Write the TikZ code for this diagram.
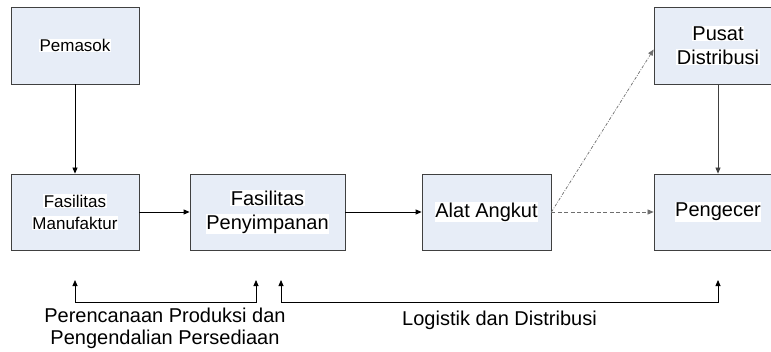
\documentclass[tikz,border=0pt]{standalone}
\usepackage{fontspec}
\setmainfont{Liberation Sans}
\usetikzlibrary{arrows.meta}
\definecolor{boxfill}{RGB}{231,237,247}
\definecolor{boxline}{RGB}{64,64,64}
\definecolor{dashline}{RGB}{110,110,110}
% white highlight behind each line of text
\newcommand{\hltext}[1]{{\setlength{\fboxsep}{0.6pt}\colorbox{white}{#1}}}
\begin{document}
\begin{tikzpicture}[x=1pt,y=1pt,
  box/.style={draw=boxline, fill=boxfill, line width=0.8pt,
    minimum width=128pt, minimum height=77pt, inner sep=0pt, align=center},
  smalltext/.style={font=\fontsize{17}{22}\selectfont},
  largetext/.style={font=\fontsize{20}{24}\selectfont},
  tip/.tip={Triangle[length=6pt,width=5pt]},
  flow/.style={line width=0.8pt, -tip},
  grayflow/.style={line width=0.8pt, draw=boxline, -tip},
  dashflow/.style={line width=0.7pt, draw=dashline, dash pattern=on 4pt off 2.5pt, -tip},
  dotflow/.style={line width=0.7pt, draw=dashline, dash pattern=on 3pt off 1.5pt on 0.8pt off 1.5pt, -tip},
  span/.style={line width=0.8pt, tip-tip}
]
\fill[white] (0,0) rectangle (771,351);
\useasboundingbox (0,0) rectangle (771,351);

% boxes
\node[box, smalltext] (pem) at (75,305.5) {\hltext{Pemasok}};
\node[box, smalltext, minimum height=76pt] (man) at (75,139) {\hltext{Fasilitas}\\\hltext{Manufaktur}};
\node[box, largetext, minimum width=155pt, minimum height=76pt] (peny) at (267.5,139) {\hltext{Fasilitas}\\\hltext{Penyimpanan}};
\node[box, largetext, minimum width=129pt, minimum height=76pt] (alat) at (486.5,139) {\hltext{Alat Angkut}};
\node[box, largetext] (pusat) at (718,305.5) {\hltext{Pusat}\\\hltext{Distribusi}};
\node[box, largetext, minimum height=76pt] (peng) at (718,139) {\hltext{Pengecer}};

% flows between boxes
\draw[flow] (pem) -- (man);
\draw[flow] (man) -- (peny);
\draw[flow] (peny) -- (alat);
\draw[dashflow] (alat.east) -- (peng.west);
\draw[dotflow] (alat.east) -- ([yshift=-4pt]pusat.west);
\draw[grayflow] (pusat) -- (peng);

% planning and logistics spans
\coordinate (p1) at (75,71);
\coordinate (p1b) at (75,49);
\coordinate (p2) at (256,71);
\coordinate (p2b) at (256,49);
\coordinate (l1) at (281,71);
\coordinate (l1b) at (281,49);
\coordinate (l2) at (718,71);
\coordinate (l2b) at (718,49);
\draw[span] (p1) -- (p1b) -- (p2b) -- (p2);
\draw[span] (l1) -- (l1b) -- (l2b) -- (l2);

\node[largetext, align=center, font=\fontsize{20}{22}\selectfont] (plan) at (165,23)
  {Perencanaan Produksi dan\\Pengendalian Persediaan};
\node[largetext, anchor=base] (logi) at (499.5,26) {Logistik dan Distribusi};
\end{tikzpicture}
\end{document}
